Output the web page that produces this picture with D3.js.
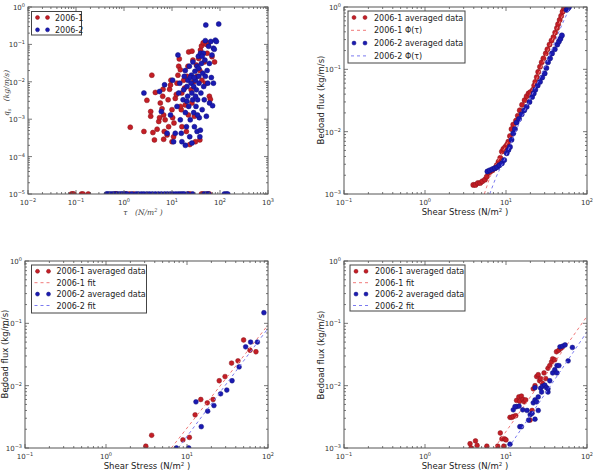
<!DOCTYPE html>
<html>
<head>
<meta charset="utf-8">
<script src="https://cdn.jsdelivr.net/npm/d3@7.9.0/dist/d3.min.js"></script>
<style>
  body { margin: 0; background: #fff; }
  svg { display: block; font-family: "DejaVu Sans", sans-serif; }
</style>
</head>
<body>
<svg id="chart" width="595" height="474"></svg>
<script>
// ---- panel 1: raw samples [tau, qs] ----
const raw1 = [[1.35,6.1e-4],[2.6,4.7e-4],[3.0,3.2e-3],[3.6,1.6e-3],[3.6,1.2e-3],[3.8,0.015],[4.3,2.8e-4],[4.0,4.4e-4],[4.5,5.2e-3],[4.9,5.4e-4],[5.3,8.7e-4],[5.5,1.1e-3],[5.7,2.7e-3],[6.2,1.9e-3],[6.4,4.1e-3],[6.5,6.3e-3],[6.7,1.3e-3],[7.2,9.6e-4],[6.9,4.7e-4],[6.7,2.9e-4],[7.9,3.8e-4],[8.5,6.3e-4],[8.3,3.3e-3],[8.9,6.3e-3],[9.3,8.2e-3],[9.5,0.011],[10,1.8e-3],[10.3,1.1e-3],[10,2.5e-4],[10.8,3.4e-4],[11.7,3.6e-3],[12.3,4.6e-3],[12.7,9.2e-3],[13.3,0.015],[13.8,0.026],[14.2,0.041],[14.9,0.021],[15.6,1.8e-3],[16.1,6.3e-4],[17.5,0.011],[18.3,6.8e-3],[18.9,2.4e-3],[19.9,4.7e-4],[20.5,0.014],[21.5,0.026],[22.3,0.063],[23.4,2.1e-4],[26.1,0.066],[27.3,0.038],[28.3,0.010],[29.3,1.2e-3],[30.7,2.5e-4],[32.2,0.028],[33.3,0.014],[36.1,0.042],[37.9,0.020],[39.2,0.071],[41.1,0.091],[44.7,0.11],[47.1,0.034],[52,0.10],[54,0.058],[58,0.11],[60,4.1e-3],[63,3.4e-3],[68,0.047],[77,0.034],[38,2.8e-4],[26,2.7e-3],[25,6.1e-3],[16,5e-3],[11,7.9e-4],[15,2.2e-3],[22,1.3e-3],[42,0.011],[50,9e-3]];
const raw2 = [[2.6,5e-3],[5.5,5.5e-3],[6.0,1.6e-3],[7.0,8.3e-3],[7.9,4.2e-4],[9.3,1.3e-3],[10.3,0.011],[10.8,2.5e-4],[11.7,4.2e-4],[12.7,2.2e-3],[13.3,0.052],[13.8,5e-3],[14.5,9.2e-3],[14.9,9.6e-4],[15.6,4.2e-4],[16.1,2.5e-4],[17,3.3e-3],[17.5,6.1e-3],[18,0.014],[18.9,0.020],[19,1.5e-3],[20,6.3e-4],[20.5,7.5e-3],[21.2,4.1e-3],[21.5,0.011],[22.3,2.2e-3],[23,0.026],[23.4,3.4e-4],[24,9.6e-4],[25,9.2e-3],[25.3,0.015],[26,5e-3],[27,3.3e-3],[27.3,0.034],[28.3,7.5e-3],[28.3,1.5e-3],[29.3,6.3e-4],[30,0.019],[30.7,0.011],[31.6,2.2e-3],[32.2,6.1e-3],[33.3,0.026],[33.3,4.7e-4],[34.2,3.3e-3],[35.4,0.048],[36,0.014],[36.5,9.2e-3],[37,1.1e-3],[38,3.4e-4],[39.2,0.058],[40,5e-3],[41,0.031],[42.5,1.8e-3],[43.7,0.017],[45,0.058],[45.7,7.5e-3],[47,3.3e-3],[48.5,0.038],[49.5,0.126],[50.6,0.33],[52,1.2e-3],[54,0.020],[55.7,9.2e-3],[58,0.089],[60,0.031],[60.5,2.7e-3],[64.5,0.12],[66,0.013],[68,0.052],[70,2.3e-3],[73,0.079],[73,9.2e-3],[76,0.074],[80,0.13],[84,0.12],[94,0.35],[26,2.3e-4],[19,2e-4],[39,5.1e-4],[34,1.3e-3],[31,4.1e-3],[24,0.013],[20.5,3e-3],[42.5,0.048],[49.5,0.014],[36,0.023],[29,0.013]];
// samples with no measurable flux, drawn on the 1e-5 floor
const zero1 = [0.08,0.085,0.09,0.13,0.14,0.18,0.66,0.7,1.1,1.3,1.6,22,24,41,44,55,60];
const zero2 = [0.43,0.46,0.5,0.55,0.6,0.65,0.72,0.8,0.88,0.95,1.05,1.15,1.45,1.8,2.0,2.3,2.6,3.0,3.4,3.9,4.5,5.2,6,7,8,9.2,10.5,12,13.5,15,16.5,18,21,27,47,52,58,123,135,145];
const floorQ = 1e-5;

// ---- panel 2: averaged data and Phi(tau) ----
const avg1 = [[3.95,1.4e-3],[4.2,1.4e-3],[4.5,1.5e-3],[4.8,1.5e-3],[5.1,1.6e-3],[5.5,1.7e-3],[5.8,1.9e-3],[6.1,2.2e-3],[6.4,2.3e-3],[6.8,2.4e-3],[7.3,2.6e-3],[7.7,2.9e-3],[8.1,3.3e-3],[8.5,3.8e-3],[8.9,4.8e-3],[9.3,5.3e-3],[9.8,5.7e-3],[10.3,6.2e-3],[10.7,6.9e-3],[11.2,8.5e-3],[11.7,0.011],[12.3,0.013],[13.3,0.015],[14,0.018],[14.8,0.022],[15.8,0.027],[17,0.032],[18,0.037],[19,0.041],[20,0.043],[21.5,0.047],[22.3,0.055],[23,0.063],[24,0.075],[25,0.091],[26.3,0.11],[27.6,0.13],[29,0.15],[31,0.18],[32.5,0.21],[34.5,0.25],[36.5,0.29],[38.6,0.33],[40.5,0.39],[42.6,0.46],[44,0.53],[46,0.62],[48,0.72],[50,0.84],[52,0.95]];
const avg2 = [[5.9,2.3e-3],[6.3,2.4e-3],[6.8,2.5e-3],[7.3,2.6e-3],[7.8,2.7e-3],[8.3,2.9e-3],[8.9,3.1e-3],[9.5,3.5e-3],[10.2,4.5e-3],[10.7,5.1e-3],[11.2,5.7e-3],[11.7,7.4e-3],[12.3,9.4e-3],[12.9,0.011],[13.5,0.014],[14.5,0.016],[15.6,0.019],[16.8,0.022],[18,0.025],[19.5,0.03],[21,0.036],[22,0.041],[23,0.047],[24.6,0.055],[26.3,0.063],[28,0.074],[30,0.086],[31.5,0.105],[33,0.13],[35,0.15],[37,0.18],[40,0.21],[43,0.25],[45,0.28],[47,0.31],[49,0.35],[56,0.9],[58,0.95],[60,1.0]];
const phi1 = [[5.4,1e-3],[6.5,2e-3],[8,3.5e-3],[10,6e-3],[14,0.016],[20,0.04],[30,0.15],[40,0.37],[55,1]];
const phi2 = [[6.3,1e-3],[7.6,1.9e-3],[9.5,3.5e-3],[12,7.5e-3],[16,0.018],[22,0.045],[32,0.13],[45,0.4],[62,1]];

// ---- panel 3: binned averages and power-law fits ----
const bin1 = [[3.1,1.07e-3],[3.66,1.6e-3],[8.9,1.35e-3],[10.7,1.48e-3],[12.6,3.4e-3],[14.8,6e-3],[17.8,5.3e-3],[21,6e-3],[25,0.012],[29.5,0.014],[35.5,0.023],[42.6,0.025],[50,0.054],[60,0.037],[71,0.035]];
const bin2 = [[7.4,1e-3],[10.5,1e-3],[12.9,5.5e-3],[15,2.2e-3],[18,3.9e-3],[21.5,4.8e-3],[26,7.4e-3],[31,8.5e-3],[36,0.012],[44,0.02],[53,0.042],[61,0.05],[74,0.05],[89,0.148]];
const fitA1 = [[6.4,1e-3],[100,0.094]];
const fitA2 = [[7.8,1e-3],[100,0.083]];

// ---- panel 4: moving averages and power-law fits ----
const mov1 = [[3.6,1.17e-3],[4.2,1.3e-3],[4.4,1.1e-3],[3.7,1e-3],[5.8,1.07e-3],[7.9,1.07e-3],[8.5,1.74e-3],[8.9,1.4e-3],[9.6,1.4e-3],[10,1.35e-3],[9.4,1.07e-3],[11.2,3.1e-3],[11.8,3.1e-3],[12.3,3.2e-3],[13.2,3.3e-3],[13.5,5.8e-3],[14.4,6.6e-3],[14.8,5.6e-3],[15.5,6.8e-3],[16.2,6e-3],[16.8,5.5e-3],[17.5,5.9e-3],[19.8,2.8e-3],[21,4e-3],[21.7,8.9e-3],[22.8,0.01],[23.9,0.014],[25,0.015],[26,0.012],[26.8,0.013],[28.1,0.011],[29.5,0.016],[30.9,0.013],[33,0.019],[34.7,0.021],[36.5,0.024],[37.7,0.027],[40,0.026],[42,0.035],[45,0.037],[48,0.04]];
const mov2 = [[11.2,1.15e-3],[14.8,2.2e-3],[12.3,4.1e-3],[13.5,4.6e-3],[14.5,4.7e-3],[16.1,4.1e-3],[19,2.8e-3],[19.9,3.4e-3],[21,3.6e-3],[21.7,5.3e-3],[22.8,5.9e-3],[23.9,5.5e-3],[25,6.6e-3],[26.8,9.1e-3],[28.3,9.8e-3],[30.2,0.0102],[31.6,9.3e-3],[33,7.9e-3],[34.7,0.012],[37.7,0.016],[40,0.018],[42.6,0.021],[46.4,0.042],[50,0.043],[53.6,0.045],[58.5,0.025],[66,0.041],[12.9,4.6e-3],[15.5,2.2e-3],[18.2,4e-3],[22.8,2.9e-3],[25,4e-3],[33,8.9e-3],[42.6,0.016],[45,0.021],[22.8,9.3e-3],[27.5,7.9e-3]];
const fitB1 = [[7.2,1e-3],[100,0.13]];
const fitB2 = [[10.7,1e-3],[100,0.073]];

const RED = '#c41e26', BLUE = '#1a1ab2', RED_FIT = '#f07a7a', BLUE_FIT = '#7a7af0';
const svg = d3.select('#chart');

function makePanel(b, xDom, yDom, id) {
  const x = d3.scaleLog().domain(xDom).range([b.l, b.r]);
  const y = d3.scaleLog().domain(yDom).range([b.b, b.t]);
  svg.append('clipPath').attr('id', id).append('rect')
    .attr('x', b.l).attr('y', b.t).attr('width', b.r - b.l).attr('height', b.b - b.t);
  const g = svg.append('g');
  const plot = g.append('g').attr('clip-path', `url(#${id})`);
  return { x, y, g, plot, b };
}

function dots(p, data, color, r) {
  p.plot.append('g').selectAll('circle').data(data).join('circle')
    .attr('cx', d => p.x(d[0])).attr('cy', d => p.y(d[1])).attr('r', r)
    .attr('fill', color).attr('stroke', d3.color(color).darker(1)).attr('stroke-width', 0.5);
}

function dashed(p, data, color) {
  const line = d3.line().x(d => p.x(d[0])).y(d => p.y(d[1])).curve(d3.curveMonotoneX);
  p.plot.append('path').datum(data).attr('d', line)
    .attr('fill', 'none').attr('stroke', color).attr('stroke-width', 1).attr('stroke-dasharray', '3,3');
}

const isMajor = v => Math.abs(Math.log10(v) - Math.round(Math.log10(v))) < 1e-9;

function powText(sel, v) {
  const e = Math.round(Math.log10(v));
  sel.text('10');
  sel.append('tspan').attr('dy', -3).attr('font-size', 5).text(String(e).replace('-', '\u2212'));
}

function axes(p) {
  const { x, y, g, b } = p;
  const ax = g.append('g').attr('stroke', '#555').attr('stroke-width', 0.8);
  x.ticks().forEach(v => {
    const L = isMajor(v) ? 4 : 2;
    ax.append('line').attr('x1', x(v)).attr('x2', x(v)).attr('y1', b.b).attr('y2', b.b - L);
    ax.append('line').attr('x1', x(v)).attr('x2', x(v)).attr('y1', b.t).attr('y2', b.t + L);
  });
  y.ticks().forEach(v => {
    const L = isMajor(v) ? 4 : 2;
    ax.append('line').attr('y1', y(v)).attr('y2', y(v)).attr('x1', b.l).attr('x2', b.l + L);
    ax.append('line').attr('y1', y(v)).attr('y2', y(v)).attr('x1', b.r).attr('x2', b.r - L);
  });
  g.append('rect').attr('x', b.l).attr('y', b.t).attr('width', b.r - b.l).attr('height', b.b - b.t)
    .attr('fill', 'none').attr('stroke', '#555').attr('stroke-width', 1);
  const lab = g.append('g').attr('font-size', 7).attr('fill', '#333');
  x.ticks().filter(isMajor).forEach(v => {
    lab.append('text').attr('x', x(v)).attr('y', b.b + 11).attr('text-anchor', 'middle').call(powText, v);
  });
  y.ticks().filter(isMajor).forEach(v => {
    lab.append('text').attr('x', b.l - 3).attr('y', y(v) + 3).attr('text-anchor', 'end').call(powText, v);
  });
}

function legend(p, box, rows) {
  const lg = p.g.append('g');
  lg.append('rect').attr('x', box.x).attr('y', box.y).attr('width', box.w).attr('height', box.h)
    .attr('fill', '#fff').attr('stroke', '#444').attr('stroke-width', 1);
  rows.forEach((r, i) => {
    const cy = box.y + box.first + i * box.step;
    if (r.kind === 'dot') {
      [box.m1, box.m2].forEach(mx => lg.append('circle').attr('cx', mx).attr('cy', cy).attr('r', 2)
        .attr('fill', r.color).attr('stroke', d3.color(r.color).darker(1)).attr('stroke-width', 0.5));
    } else {
      lg.append('line').attr('x1', box.m1 - 3).attr('x2', box.m2 + 3).attr('y1', cy).attr('y2', cy)
        .attr('stroke', r.color).attr('stroke-dasharray', '3,3');
    }
    lg.append('text').attr('x', box.tx).attr('y', cy + 3).attr('font-size', 8).attr('fill', '#222').text(r.label);
  });
}

function yLabel(cx, cy, txt) {
  svg.append('text').attr('transform', `translate(${cx},${cy}) rotate(-90)`).attr('text-anchor', 'middle')
    .attr('font-size', 8.5).attr('fill', '#222').text(txt);
}
function xLabel(cx, cy) {
  const t = svg.append('text').attr('x', cx).attr('y', cy).attr('text-anchor', 'middle')
    .attr('font-size', 8.5).attr('fill', '#222').text('Shear Stress (N/m');
  t.append('tspan').attr('dy', -3).attr('font-size', 5.5).text('2');
  t.append('tspan').attr('dy', 3).text(' )');
}

// ---- panel 1 ----
const p1 = makePanel({ l: 28, r: 268, t: 7, b: 194 }, [1e-2, 1e3], [1e-5, 1], 'c1');
dots(p1, raw1, RED, 2.5);
dots(p1, raw2, BLUE, 2.5);
dots(p1, zero1.map(t => [t, floorQ]), RED, 2.5);
dots(p1, zero2.map(t => [t, floorQ]), BLUE, 2.5);
axes(p1);
legend(p1, { x: 31.5, y: 11.5, w: 50, h: 23.5, first: 6, step: 12.3, m1: 37.5, m2: 47.5, tx: 55 },
  [{ kind: 'dot', color: RED, label: '2006-1' }, { kind: 'dot', color: BLUE, label: '2006-2' }]);
{
  const t = svg.append('text').attr('transform', 'translate(9,93) rotate(-90)').attr('text-anchor', 'middle')
    .attr('font-family', '"DejaVu Serif", serif').attr('font-style', 'italic').attr('font-size', 7.5).attr('fill', '#444');
  t.append('tspan').text('q');
  t.append('tspan').attr('dy', 2).attr('font-size', 5).text('s');
  t.append('tspan').attr('dy', -2).text('\u2003(kg/m/s)');
  const u = svg.append('text').attr('x', 143).attr('y', 215).attr('text-anchor', 'middle')
    .attr('font-family', '"DejaVu Serif", serif').attr('font-style', 'italic').attr('font-size', 7.5).attr('fill', '#444');
  u.append('tspan').text('\u03c4\u2003(N/m');
  u.append('tspan').attr('dy', -3).attr('font-size', 5).text('2');
  u.append('tspan').attr('dy', 3).text(' )');
}

// ---- panel 2 ----
const p2 = makePanel({ l: 344, r: 587, t: 7, b: 194 }, [0.1, 100], [1e-3, 1], 'c2');
dots(p2, avg1, RED, 2.6);
dashed(p2, phi1, RED_FIT);
dots(p2, avg2, BLUE, 2.6);
dashed(p2, phi2, BLUE_FIT);
axes(p2);
legend(p2, { x: 348, y: 11, w: 117, h: 52, first: 6.5, step: 12.8, m1: 354, m2: 365, tx: 374 },
  [{ kind: 'dot', color: RED, label: '2006-1 averaged data' }, { kind: 'line', color: RED_FIT, label: '2006-1 \u03a6(\u03c4)' },
   { kind: 'dot', color: BLUE, label: '2006-2 averaged data' }, { kind: 'line', color: BLUE_FIT, label: '2006-2 \u03a6(\u03c4)' }]);
yLabel(324, 100, 'Bedoad flux (kg/m/s)');
xLabel(465, 215);

// ---- panel 3 ----
const p3 = makePanel({ l: 25, r: 268, t: 261, b: 448 }, [0.1, 100], [1e-3, 1], 'c3');
dots(p3, bin1, RED, 2.4);
dashed(p3, fitA1, RED_FIT);
dots(p3, bin2, BLUE, 2.4);
dashed(p3, fitA2, BLUE_FIT);
axes(p3);
legend(p3, { x: 31.5, y: 265, w: 115, h: 48, first: 6.3, step: 11.4, m1: 37.5, m2: 48.5, tx: 56.5 },
  [{ kind: 'dot', color: RED, label: '2006-1 averaged data' }, { kind: 'line', color: RED_FIT, label: '2006-1 fit' },
   { kind: 'dot', color: BLUE, label: '2006-2 averaged data' }, { kind: 'line', color: BLUE_FIT, label: '2006-2 fit' }]);
yLabel(8, 354, 'Bedoad flux (kg/m/s)');
xLabel(147, 469);

// ---- panel 4 ----
const p4 = makePanel({ l: 344, r: 587, t: 261, b: 448 }, [0.1, 100], [1e-3, 1], 'c4');
dots(p4, mov1, RED, 2.4);
dashed(p4, fitB1, RED_FIT);
dots(p4, mov2, BLUE, 2.4);
dashed(p4, fitB2, BLUE_FIT);
axes(p4);
legend(p4, { x: 350, y: 265, w: 115, h: 46, first: 6.3, step: 11.4, m1: 356, m2: 366, tx: 375 },
  [{ kind: 'dot', color: RED, label: '2006-1 averaged data' }, { kind: 'line', color: RED_FIT, label: '2006-1 fit' },
   { kind: 'dot', color: BLUE, label: '2006-2 averaged data' }, { kind: 'line', color: BLUE_FIT, label: '2006-2 fit' }]);
yLabel(324, 355, 'Bedoad flux (kg/m/s)');
xLabel(465, 469);
</script>
</body>
</html>
